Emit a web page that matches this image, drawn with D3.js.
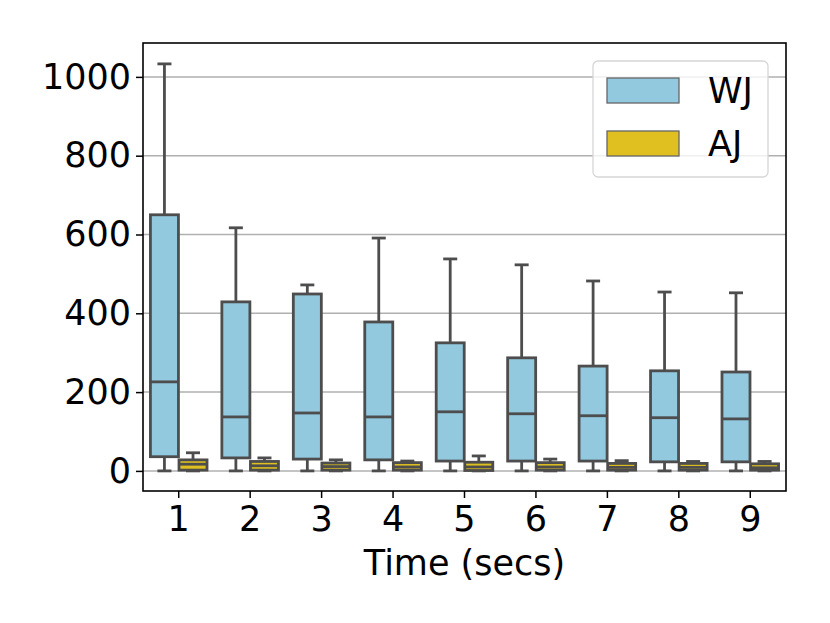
<!DOCTYPE html>
<html>
<head>
<meta charset="utf-8">
<script src="https://cdn.jsdelivr.net/npm/d3@7"></script>
<style>
  body { margin: 0; background: #fff; }
  text { font-family: "DejaVu Sans", sans-serif; }
</style>
</head>
<body>
<div class="chart"></div>
<script>
var width = 830;
var height = 623;

var categories = ["1", "2", "3", "4", "5", "6", "7", "8", "9"];
var series = ["WJ", "AJ"];
var colours = ["#92c9df", "#dfc020"];

// box stats per time step: whisker low, q1, median, q3, whisker high
var wjLow = [0, 0, 0, 0, 0, 0, 0, 0, 0];
var wjQ1 = [36, 33, 30, 28, 25, 25, 25, 23, 23];
var wjMed = [226, 137, 147, 137, 150, 145, 140, 135, 132];
var wjQ3 = [650, 429, 449, 378, 325, 287, 266, 254, 251];
var wjHigh = [1033, 617, 472, 591, 538, 523, 482, 454, 452];

var ajLow = [0, 0, 0, 0, 0, 0, 0, 0, 0];
var ajQ1 = [2, 2, 2, 2, 1, 2, 2, 2, 2];
var ajMed = [17, 13, 11, 10, 10, 10, 9, 9, 8];
var ajQ3 = [28, 24, 20, 21, 22, 21, 19, 19, 18];
var ajHigh = [46, 33, 28, 25, 38, 30, 26, 24, 24];

var yTicks = [0, 200, 400, 600, 800, 1000];

var margin = { left: 143, right: 44, top: 43, bottom: 132 };
var fontSize = "35px";

var svg = d3
  .select(".chart")
  .append("svg")
  .attr("width", width)
  .attr("height", height);

var xScale = d3
  .scaleBand()
  .domain(categories)
  .range([margin.left, width - margin.right])
  .padding(0);

var yScale = d3
  .scaleLinear()
  .domain([-51, 1086])
  .range([height - margin.bottom, margin.top]);

var hueScale = d3
  .scaleBand()
  .domain(series)
  .range([-0.4, 0.4]);

// grid
svg
  .append("g")
  .selectAll("line")
  .data(yTicks)
  .enter()
  .append("line")
  .attr("x1", margin.left)
  .attr("x2", width - margin.right)
  .attr("y1", function (d) { return yScale(d); })
  .attr("y2", function (d) { return yScale(d); })
  .attr("stroke", "#b0b0b0")
  .attr("stroke-width", 1.5);

// boxes
var stats = [
  { name: "WJ", low: wjLow, q1: wjQ1, med: wjMed, q3: wjQ3, high: wjHigh },
  { name: "AJ", low: ajLow, q1: ajQ1, med: ajMed, q3: ajQ3, high: ajHigh },
];

var boxes = [];
stats.forEach(function (s, si) {
  categories.forEach(function (c, i) {
    boxes.push({
      cat: c,
      name: s.name,
      colour: colours[si],
      low: s.low[i],
      q1: s.q1[i],
      med: s.med[i],
      q3: s.q3[i],
      high: s.high[i],
    });
  });
});

var bw = xScale.bandwidth();
var lineCol = "#4d4d4d";
var lw = 2.8;

var boxGroups = svg
  .append("g")
  .selectAll("g")
  .data(boxes)
  .enter()
  .append("g")
  .attr("transform", function (d) {
    var cx = xScale(d.cat) + bw / 2 + (hueScale(d.name) + hueScale.bandwidth() / 2) * bw;
    return "translate(" + cx + ",0)";
  });

var boxW = hueScale.bandwidth() * bw * 0.98;

boxGroups
  .append("line")
  .attr("y1", function (d) { return yScale(d.q3); })
  .attr("y2", function (d) { return yScale(d.high); })
  .attr("stroke", lineCol)
  .attr("stroke-width", lw);

boxGroups
  .append("line")
  .attr("y1", function (d) { return yScale(d.q1); })
  .attr("y2", function (d) { return yScale(d.low); })
  .attr("stroke", lineCol)
  .attr("stroke-width", lw);

boxGroups
  .selectAll(".cap")
  .data(function (d) { return [d.low, d.high]; })
  .enter()
  .append("line")
  .attr("class", "cap")
  .attr("x1", -boxW / 4)
  .attr("x2", boxW / 4)
  .attr("y1", function (v) { return yScale(v); })
  .attr("y2", function (v) { return yScale(v); })
  .attr("stroke", lineCol)
  .attr("stroke-width", lw);

boxGroups
  .append("rect")
  .attr("x", -boxW / 2)
  .attr("width", boxW)
  .attr("y", function (d) { return yScale(d.q3); })
  .attr("height", function (d) { return yScale(d.q1) - yScale(d.q3); })
  .attr("fill", function (d) { return d.colour; })
  .attr("stroke", lineCol)
  .attr("stroke-width", lw);

boxGroups
  .append("line")
  .attr("x1", -boxW / 2)
  .attr("x2", boxW / 2)
  .attr("y1", function (d) { return yScale(d.med); })
  .attr("y2", function (d) { return yScale(d.med); })
  .attr("stroke", lineCol)
  .attr("stroke-width", lw);

// axes
var yAxis = d3
  .axisLeft(yScale)
  .tickValues(yTicks)
  .tickFormat(d3.format("d"))
  .tickSize(7)
  .tickPadding(5);
var yAxisGroup = svg
  .append("g")
  .attr("transform", "translate(" + margin.left + ",0)")
  .call(yAxis);

var xAxis = d3.axisBottom(xScale).tickSize(7).tickPadding(8);
var xAxisGroup = svg
  .append("g")
  .attr("transform", "translate(0," + (height - margin.bottom) + ")")
  .call(xAxis);

[yAxisGroup, xAxisGroup].forEach(function (g) {
  g.select(".domain").remove();
  g.selectAll("line").attr("stroke", "#000").attr("stroke-width", 1.5);
  g.selectAll("text")
    .attr("fill", "#000")
    .style("font-size", fontSize)
    .style("font-family", "DejaVu Sans");
});

// frame
svg
  .append("rect")
  .attr("x", margin.left)
  .attr("y", margin.top)
  .attr("width", width - margin.left - margin.right)
  .attr("height", height - margin.top - margin.bottom)
  .attr("fill", "none")
  .attr("stroke", "#000")
  .attr("stroke-width", 1.6);

// x label
svg
  .append("text")
  .attr("x", (margin.left + width - margin.right) / 2)
  .attr("y", 575)
  .attr("text-anchor", "middle")
  .style("font-size", fontSize)
  .text("Time (secs)");

// legend
var legendContainer = svg.append("g").attr("id", "legend");

legendContainer
  .append("rect")
  .attr("x", 593)
  .attr("y", 61)
  .attr("width", 175)
  .attr("height", 116)
  .attr("rx", 5)
  .attr("fill", "#fff")
  .attr("fill-opacity", 0.8)
  .attr("stroke", "#d6d6d6")
  .attr("stroke-width", 1.3);

var legendItems = legendContainer
  .selectAll(".item")
  .data(series)
  .enter()
  .append("g")
  .attr("class", "item")
  .attr("transform", function (d, i) { return "translate(607," + (78 + i * 53) + ")"; });

legendItems
  .append("rect")
  .attr("width", 72)
  .attr("height", 25)
  .attr("fill", function (d, i) { return colours[i]; })
  .attr("stroke", "#666")
  .attr("stroke-width", 1.3);

legendItems
  .append("text")
  .attr("x", 101)
  .attr("y", 25)
  .style("font-size", fontSize)
  .text(function (d) { return d; });
</script>
</body>
</html>
